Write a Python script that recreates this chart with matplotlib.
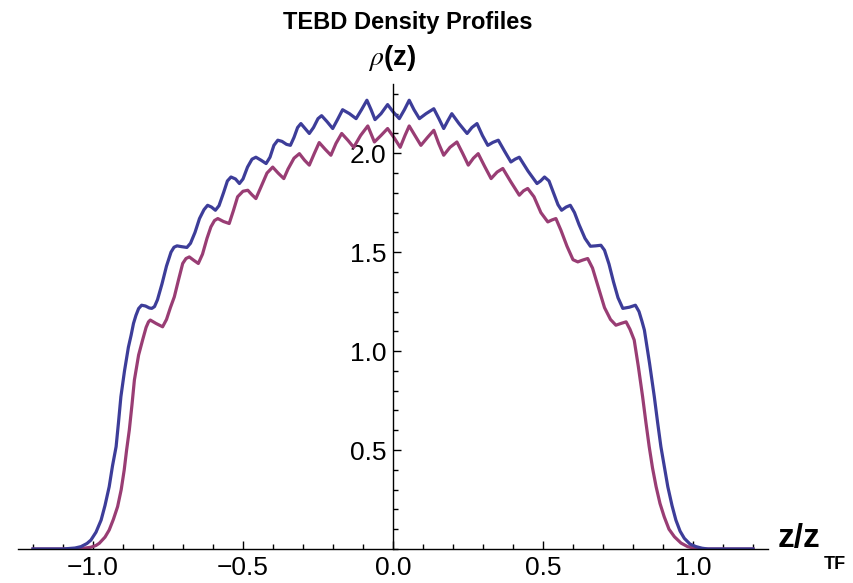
import matplotlib
matplotlib.use('Agg')
import matplotlib.pyplot as plt
from matplotlib.ticker import MultipleLocator, FixedLocator

# values: (z/z_TF, rho)
z_blue = [-1.2, -1.1, -1.06, -1.04, -1.02, -1.007, -0.99, -0.973, -0.96, -0.946,
          -0.935, -0.923, -0.915, -0.907, -0.895, -0.882, -0.873, -0.865, -0.857, -0.848,
          -0.838, -0.825, -0.812, -0.804, -0.795, -0.785, -0.77, -0.755, -0.74, -0.73,
          -0.72, -0.705, -0.687, -0.675, -0.66, -0.645, -0.63, -0.618, -0.605, -0.592,
          -0.58, -0.565, -0.552, -0.54, -0.525, -0.512, -0.5, -0.485, -0.47, -0.457,
          -0.44, -0.423, -0.41, -0.397, -0.384, -0.37, -0.355, -0.342, -0.33, -0.318,
          -0.307, -0.293, -0.279, -0.265, -0.25, -0.238, -0.22, -0.201, -0.185, -0.168,
          -0.145, -0.123, -0.105, -0.087, -0.073, -0.06, -0.04, -0.018, 0.0, 0.021,
          0.038, 0.054, 0.07, 0.088, 0.11, 0.136, 0.153, 0.169, 0.183, 0.196,
          0.22, 0.247, 0.263, 0.28, 0.298, 0.316, 0.333, 0.351, 0.372, 0.393,
          0.407, 0.421, 0.45, 0.48, 0.492, 0.505, 0.52, 0.535, 0.55, 0.562,
          0.577, 0.591, 0.605, 0.62, 0.64, 0.658, 0.675, 0.693, 0.705, 0.72,
          0.735, 0.75, 0.766, 0.788, 0.808, 0.82, 0.83, 0.838, 0.855, 0.871,
          0.882, 0.893, 0.905, 0.916, 0.93, 0.943, 0.957, 0.971, 0.99, 1.01,
          1.03, 1.05, 1.2]
rho_blue = [0.0, 0.0, 0.005, 0.012, 0.028, 0.045, 0.085, 0.146, 0.22, 0.315,
            0.42, 0.517, 0.64, 0.77, 0.9, 1.02, 1.08, 1.14, 1.18, 1.215,
            1.232, 1.228, 1.218, 1.216, 1.225, 1.26, 1.34, 1.43, 1.5, 1.525,
            1.532, 1.528, 1.524, 1.545, 1.6, 1.67, 1.715, 1.737, 1.728, 1.712,
            1.735, 1.8, 1.86, 1.88, 1.87, 1.847, 1.87, 1.93, 1.97, 1.98,
            1.965, 1.948, 1.98, 2.04, 2.066, 2.06, 2.045, 2.04, 2.08, 2.13,
            2.15, 2.125, 2.10, 2.13, 2.175, 2.19, 2.16, 2.125, 2.17, 2.22,
            2.2, 2.175, 2.22, 2.268, 2.22, 2.17, 2.2, 2.246, 2.21, 2.175,
            2.22, 2.268, 2.22, 2.175, 2.2, 2.225, 2.175, 2.125, 2.165, 2.2,
            2.15, 2.1, 2.13, 2.15, 2.09, 2.04, 2.055, 2.066, 2.01, 1.956,
            1.97, 1.98, 1.91, 1.847, 1.86, 1.88, 1.86, 1.8, 1.74, 1.712,
            1.728, 1.737, 1.7, 1.64, 1.57, 1.53, 1.532, 1.535, 1.51, 1.44,
            1.35, 1.27, 1.216, 1.222, 1.232, 1.2, 1.15, 1.106, 0.94, 0.77,
            0.64, 0.517, 0.41, 0.315, 0.22, 0.146, 0.09, 0.054, 0.025, 0.012,
            0.004, 0.0, 0.0]

z_red = [-1.2, -1.06, -1.03, -1.007, -0.99, -0.979, -0.96, -0.946, -0.932, -0.918,
         -0.906, -0.896, -0.888, -0.879, -0.87, -0.862, -0.848, -0.834, -0.823, -0.815,
         -0.809, -0.79, -0.768, -0.755, -0.742, -0.729, -0.715, -0.701, -0.69, -0.679,
         -0.665, -0.649, -0.635, -0.62, -0.607, -0.595, -0.584, -0.565, -0.546, -0.532,
         -0.518, -0.5, -0.484, -0.47, -0.457, -0.44, -0.42, -0.401, -0.383, -0.364,
         -0.35, -0.33, -0.312, -0.295, -0.279, -0.262, -0.246, -0.226, -0.207, -0.19,
         -0.171, -0.15, -0.131, -0.108, -0.084, -0.062, -0.04, -0.018, 0.003, 0.024,
         0.04, 0.054, 0.073, 0.093, 0.115, 0.136, 0.152, 0.169, 0.19, 0.213,
         0.232, 0.251, 0.268, 0.284, 0.305, 0.327, 0.347, 0.366, 0.393, 0.421,
         0.435, 0.449, 0.47, 0.493, 0.516, 0.53, 0.543, 0.56, 0.58, 0.6,
         0.616, 0.632, 0.649, 0.665, 0.685, 0.705, 0.725, 0.743, 0.76, 0.777,
         0.79, 0.804, 0.818, 0.832, 0.843, 0.854, 0.865, 0.877, 0.89, 0.904,
         0.92, 0.938, 0.96, 0.982, 1.005, 1.03, 1.2]
rho_red = [0.0, 0.0, 0.004, 0.009, 0.018, 0.029, 0.06, 0.096, 0.15, 0.214,
           0.3, 0.399, 0.5, 0.601, 0.73, 0.854, 0.98, 1.06, 1.12, 1.148,
           1.157, 1.14, 1.123, 1.16, 1.22, 1.274, 1.36, 1.443, 1.468, 1.476,
           1.46, 1.443, 1.49, 1.57, 1.628, 1.66, 1.67, 1.655, 1.645, 1.71,
           1.78, 1.808, 1.813, 1.79, 1.771, 1.83, 1.9, 1.93, 1.9, 1.872,
           1.92, 1.975, 1.998, 1.965, 1.94, 2.0, 2.054, 2.02, 1.99, 2.05,
           2.1, 2.065, 2.03, 2.09, 2.138, 2.057, 2.09, 2.125, 2.08, 2.03,
           2.09, 2.138, 2.09, 2.04, 2.08, 2.116, 2.05, 1.99, 2.03, 2.057,
           2.0, 1.94, 1.975, 1.998, 1.935, 1.872, 1.905, 1.923, 1.855, 1.788,
           1.81, 1.822, 1.78, 1.7, 1.653, 1.663, 1.67, 1.61, 1.53, 1.462,
           1.451, 1.46, 1.468, 1.42, 1.32, 1.22, 1.16, 1.131, 1.14, 1.148,
           1.11, 1.056, 0.92, 0.77, 0.64, 0.517, 0.41, 0.315, 0.23, 0.163,
           0.1, 0.062, 0.03, 0.012, 0.004, 0.0, 0.0]

x_ticks = [-1.0, -0.5, 0.0, 0.5, 1.0]
x_tick_labels = ['\u22121.0', '\u22120.5', '0.0', '0.5', '1.0']
y_ticks = [0.5, 1.0, 1.5, 2.0]
y_tick_labels = ['0.5', '1.0', '1.5', '2.0']

blue = '#3d3d99'
purple = '#993d74'

plt.rcParams['font.family'] = ['Liberation Sans', 'DejaVu Sans']
plt.rcParams['mathtext.fontset'] = 'stix'

fig = plt.figure(figsize=(8.54, 5.83), dpi=100)
ax = fig.add_axes([18 / 854, 34 / 583, 750 / 854, 465 / 583])

ax.plot(z_red, rho_red, color=purple, lw=2.3, solid_joinstyle='round')
ax.plot(z_blue, rho_blue, color=blue, lw=2.3, solid_joinstyle='round')

ax.set_xlim(-1.25, 1.25)
ax.set_ylim(0, 2.35)

ax.spines['top'].set_visible(False)
ax.spines['right'].set_visible(False)
ax.spines['left'].set_position(('data', 0))
ax.spines['bottom'].set_position(('data', 0))
for s in ['left', 'bottom']:
    ax.spines[s].set_linewidth(1.0)

ax.xaxis.set_major_locator(FixedLocator(x_ticks))
ax.set_xticklabels(x_tick_labels)
ax.xaxis.set_minor_locator(MultipleLocator(0.1))
ax.yaxis.set_major_locator(FixedLocator(y_ticks))
ax.set_yticklabels(y_tick_labels)
ax.yaxis.set_minor_locator(MultipleLocator(0.1))

ax.tick_params(which='both', direction='in', labelsize=19, width=1.0)
ax.tick_params(which='major', length=6)
ax.tick_params(which='minor', length=3.5)
ax.tick_params(axis='x', pad=5)
ax.tick_params(axis='y', pad=5)

fig.text(0.478, 0.962, 'TEBD Density Profiles', ha='center', va='center',
         fontsize=17, fontweight='bold')
fig.text(0.459, 0.90, r'$\rho$(z)', ha='center', va='center',
         fontsize=20, fontweight='bold')
fig.text(778 / 854, (583 - 547) / 583, 'z/z', ha='left', va='baseline',
         fontsize=24, fontweight='bold')
fig.text(824 / 854, (583 - 569) / 583, 'TF', ha='left', va='baseline',
         fontsize=13, fontweight='bold')

plt.savefig('out.png', dpi=100)
